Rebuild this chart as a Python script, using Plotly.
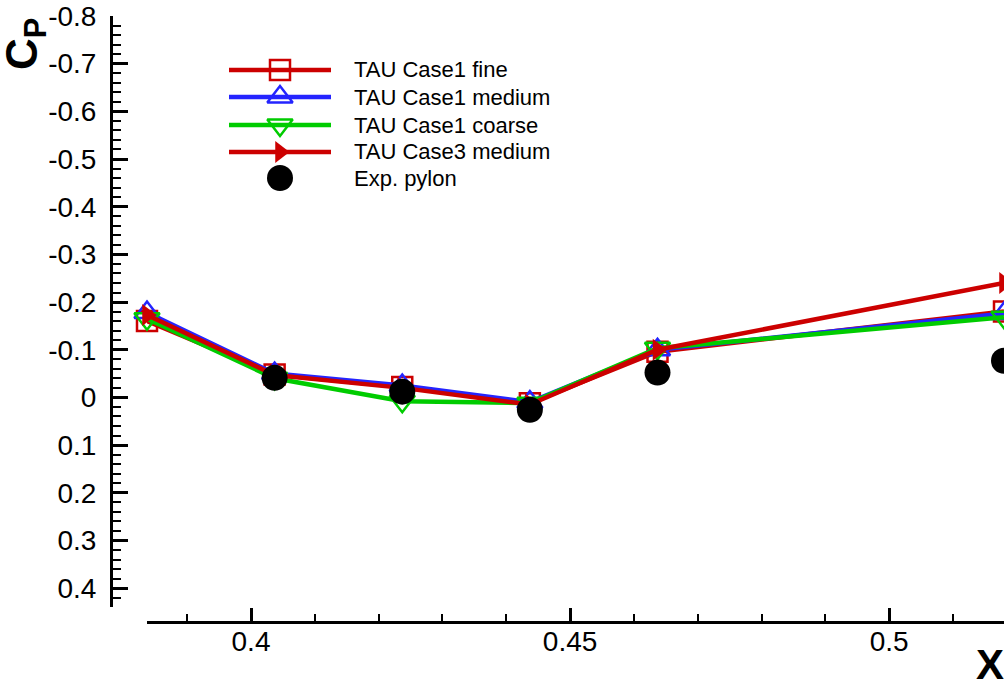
import plotly.graph_objects as go

# Pylon surface pressure: chordwise stations and Cp values
x_cfd = [0.3837, 0.4037, 0.4237, 0.4437, 0.4637, 0.518]
cp_case1_fine = [-0.160, -0.048, -0.022, 0.012, -0.096, -0.180]
cp_case1_medium = [-0.178, -0.050, -0.025, 0.010, -0.100, -0.176]
cp_case1_coarse = [-0.165, -0.040, 0.008, 0.012, -0.103, -0.168]
cp_case3_medium = [-0.173, -0.047, -0.020, 0.015, -0.100, -0.240]

x_exp = [0.4037, 0.4237, 0.4437, 0.4637, 0.518]
cp_exp = [-0.041, -0.012, 0.026, -0.052, -0.077]

series_names = ["TAU Case1 fine", "TAU Case1 medium", "TAU Case1 coarse",
                "TAU Case3 medium", "Exp. pylon"]

y_tick_vals = [-0.8, -0.7, -0.6, -0.5, -0.4, -0.3, -0.2, -0.1, 0.0, 0.1, 0.2, 0.3, 0.4]
y_tick_text = ["-0.8", "-0.7", "-0.6", "-0.5", "-0.4", "-0.3", "-0.2", "-0.1",
               "0", "0.1", "0.2", "0.3", "0.4"]
x_tick_vals = [0.4, 0.45, 0.5]
x_tick_text = ["0.4", "0.45", "0.5"]

W, H = 1004, 688
FONT = "Liberation Sans"
RED = "#CC0000"
BLUE = "#2424FF"
GREEN = "#00CC00"

styles = [
    dict(color=RED, symbol="square-open", size=20, mline=2.5),
    dict(color=BLUE, symbol="triangle-up-open", size=22, mline=2.5),
    dict(color=GREEN, symbol="triangle-down-open", size=22, mline=2.5),
    dict(color=RED, symbol="triangle-right", size=19, mline=0),
]
cfd_series = [cp_case1_fine, cp_case1_medium, cp_case1_coarse, cp_case3_medium]

fig = go.Figure()

for name, cp, st in zip(series_names[:4], cfd_series, styles):
    fig.add_trace(go.Scatter(
        x=x_cfd, y=cp, name=name, mode="lines+markers", cliponaxis=False,
        line=dict(color=st["color"], width=4.5),
        marker=dict(symbol=st["symbol"], size=st["size"], color=st["color"],
                    line=dict(color=st["color"], width=st["mline"])),
        showlegend=False,
    ))

fig.add_trace(go.Scatter(
    x=x_exp, y=cp_exp, name=series_names[4], mode="markers", cliponaxis=False,
    marker=dict(symbol="circle", size=26, color="black"),
    showlegend=False,
))


def px(x):
    return x / W


def py(y):
    return 1 - y / H


# Legend block drawn on a full-page pixel-scaled subplot
leg_rows = [70, 97, 125, 152, 178]
leg_x0, leg_xm, leg_x1, leg_tx = 229, 280, 331, 352
for i, (name, row) in enumerate(zip(series_names, leg_rows)):
    if i < 4:
        st = styles[i]
        fig.add_trace(go.Scatter(
            x=[leg_x0, leg_x1], y=[row, row], mode="lines", xaxis="x2", yaxis="y2",
            line=dict(color=st["color"], width=4.5), showlegend=False, hoverinfo="skip"))
        fig.add_trace(go.Scatter(
            x=[leg_xm], y=[row], mode="markers", xaxis="x2", yaxis="y2",
            marker=dict(symbol=st["symbol"], size=st["size"], color=st["color"],
                        line=dict(color=st["color"], width=st["mline"])),
            showlegend=False, hoverinfo="skip"))
    else:
        fig.add_trace(go.Scatter(
            x=[leg_xm], y=[row], mode="markers", xaxis="x2", yaxis="y2",
            marker=dict(symbol="circle", size=26, color="black"),
            showlegend=False, hoverinfo="skip"))
    fig.add_annotation(x=px(leg_tx), y=py(row), xref="paper", yref="paper", text=name,
                       showarrow=False, xanchor="left", yanchor="middle",
                       font=dict(family=FONT, size=22, color="black"))

# Axis titles
fig.add_annotation(x=px(25), y=py(44), xref="paper", yref="paper",
                   text="<b>C<sub>P</sub></b>",
                   textangle=-90, showarrow=False, xanchor="center", yanchor="middle",
                   font=dict(family=FONT, size=44, color="black"))
fig.add_annotation(x=px(990), y=py(664), xref="paper", yref="paper", text="<b>X</b>",
                   showarrow=False, xanchor="center", yanchor="middle",
                   font=dict(family=FONT, size=42, color="black"))

fig.update_layout(
    width=W, height=H,
    margin=dict(l=0, r=0, t=0, b=0, autoexpand=False),
    paper_bgcolor="white", plot_bgcolor="rgba(0,0,0,0)",
    font=dict(family=FONT, color="black"),
    showlegend=False,
    xaxis=dict(
        domain=[147 / W, 1.0], anchor="free", position=(H - 621.7) / H,
        range=[0.3837, 0.518], showgrid=False, zeroline=False,
        showline=True, linecolor="black", linewidth=3,
        tickmode="array", tickvals=x_tick_vals, ticktext=x_tick_text,
        ticks="inside", ticklen=13, tickwidth=3, tickcolor="black",
        ticklabelstandoff=-6,
        tickfont=dict(family=FONT, size=28, color="black"),
        minor=dict(tickmode="linear", tick0=0, dtick=0.01, ticks="inside",
                   ticklen=7, tickwidth=2, tickcolor="black", showgrid=False),
    ),
    yaxis=dict(
        domain=[(H - 606.7) / H, (H - 16) / H], anchor="free", position=111 / W,
        range=[0.439, -0.8], showgrid=False, zeroline=False,
        showline=True, linecolor="black", linewidth=3,
        tickmode="array", tickvals=y_tick_vals, ticktext=y_tick_text,
        ticks="inside", ticklen=15, tickwidth=3, tickcolor="black",
        ticklabelstandoff=8,
        tickfont=dict(family=FONT, size=28, color="black"),
        minor=dict(tickmode="linear", tick0=0, dtick=0.02, ticks="inside",
                   ticklen=8, tickwidth=2, tickcolor="black", showgrid=False),
    ),
    xaxis2=dict(domain=[0, 1], range=[0, W], visible=False, anchor="y2",
                fixedrange=True),
    yaxis2=dict(domain=[0, 1], range=[H, 0], visible=False, anchor="x2",
                fixedrange=True),
)

fig.write_html("out.html")
